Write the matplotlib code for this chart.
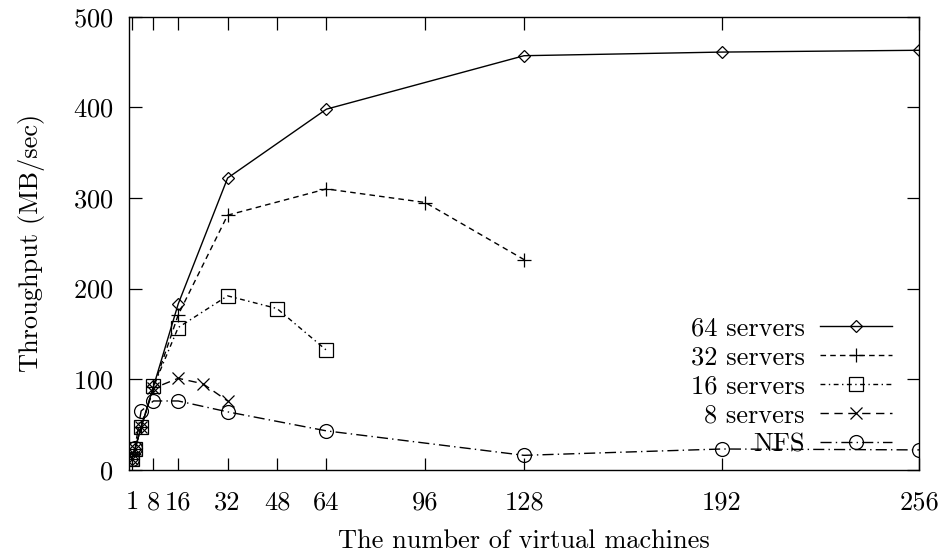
import matplotlib
matplotlib.use("Agg")
import matplotlib.pyplot as plt

plt.rcParams['font.family'] = 'serif'
plt.rcParams['font.serif'] = ['cmr10', 'DejaVu Serif']
plt.rcParams['axes.formatter.use_mathtext'] = True

# data
x64 = [1, 2, 4, 8, 16, 32, 64, 128, 192, 256]
y64 = [12, 23, 47, 92, 183, 322, 398, 457, 461, 463]
x32 = [1, 2, 4, 8, 16, 32, 64, 96, 128]
y32 = [12, 23, 47, 91, 171, 281, 310, 295, 232]
x16 = [1, 2, 4, 8, 16, 32, 48, 64]
y16 = [12, 23, 47, 92, 157, 192, 178, 132]
x8 = [1, 2, 4, 8, 16, 24, 32]
y8 = [12, 23, 47, 90, 101, 95, 76]
xnfs = [1, 2, 4, 8, 16, 32, 64, 128, 192, 256]
ynfs = [12, 24, 65, 76, 76, 64, 43, 16, 23, 22]

xticks = [1, 8, 16, 32, 48, 64, 96, 128, 192, 256]
yticks = [0, 100, 200, 300, 400, 500]

fs = 19

fig = plt.figure(figsize=(9.4, 5.58), dpi=100)
ax = fig.add_axes([0.137, 0.158, 0.841, 0.812])

lw = 1.0
ax.plot(x64, y64, color='black', lw=lw, marker='D', ms=6.5, mfc='none', mew=0.9,
        label='64 servers')
ax.plot(x32, y32, color='black', lw=lw, dashes=(4, 3), marker='+', ms=10, mew=0.9,
        label='32 servers')
ax.plot(x16, y16, color='black', lw=lw, dashes=(3.5, 2.5, 1, 2.5), marker='s', ms=10,
        mfc='none', mew=0.9, label='16 servers')
ax.plot(x8, y8, color='black', lw=lw, dashes=(6, 4), marker='x', ms=9, mew=0.9,
        label='8 servers')
ax.plot(xnfs, ynfs, color='black', lw=lw, dashes=(8, 3, 1, 3), marker='o', ms=10,
        mfc='none', mew=0.9, label='NFS')

ax.set_xlim(0, 256)
ax.set_ylim(0, 500)
ax.set_xticks(xticks)
ax.set_xticklabels([str(t) for t in xticks])
ax.set_yticks(yticks)
ax.tick_params(direction='in', length=9, width=0.9, top=True, right=True,
               labelsize=fs, pad=11)
ax.tick_params(axis='x', pad=15)
for s in ax.spines.values():
    s.set_linewidth(1.0)

ax.set_xlabel('The number of virtual machines', fontsize=fs, labelpad=11)
ax.set_ylabel('Throughput (MB/sec)', fontsize=fs, labelpad=20)

ax.legend(loc='lower right', bbox_to_anchor=(0.965, 0.03), frameon=False,
          markerfirst=False, fontsize=fs, handlelength=2.7, handletextpad=0.6,
          labelspacing=0.2, borderpad=0, borderaxespad=0)

fig.savefig('out.png', dpi=100)
